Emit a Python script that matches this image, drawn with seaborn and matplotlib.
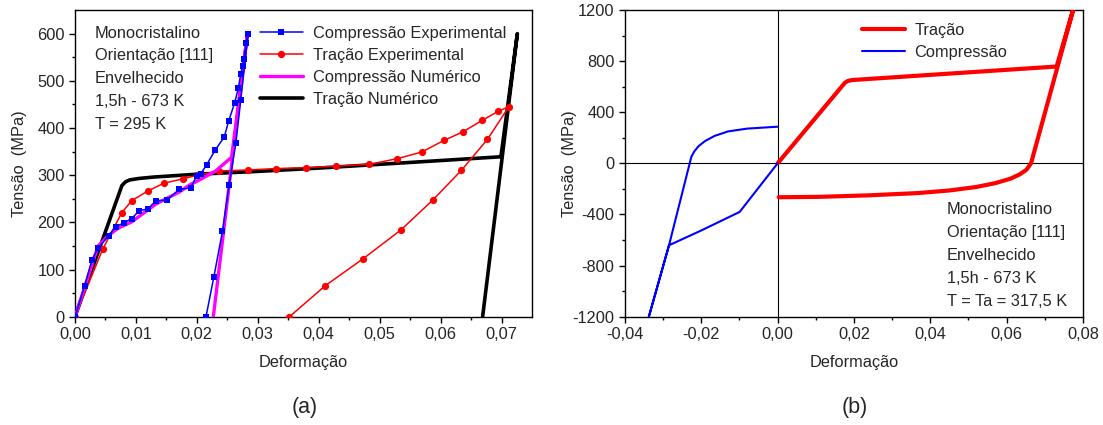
import numpy as np
import pandas as pd
import matplotlib
matplotlib.use("Agg")
import matplotlib.pyplot as plt
import seaborn as sns

# ---- (a) dados experimentais / numericos ----
comp_exp_x = [0, 0.00159, 0.00279, 0.00383, 0.00552, 0.00673, 0.00804, 0.0093, 0.01056, 0.01193,
              0.0133, 0.01505, 0.01712, 0.0190, 0.01997, 0.0206, 0.0216, 0.0230, 0.0245, 0.0252,
              0.0262, 0.0268, 0.0272, 0.0275, 0.0277, 0.0281, 0.0284,
              0.0272, 0.0264, 0.0253, 0.0242, 0.0228, 0.0215]
comp_exp_y = [0, 66, 121, 146, 172, 191, 199, 208, 225, 228,
              246, 247, 270, 273, 299, 302, 322, 353, 381, 414,
              453, 484, 515, 531, 546, 580, 599,
              459, 368, 280, 181, 85, 0]

trac_exp_x = [0, 0.00454, 0.00766, 0.0093, 0.01204, 0.0146, 0.01767, 0.0201, 0.0237, 0.0284,
              0.0330, 0.0379, 0.0428, 0.0483, 0.0529, 0.0569, 0.0606, 0.0637, 0.0668, 0.0694,
              0.0712, 0.0677, 0.0634, 0.0587, 0.0535, 0.0473, 0.0411, 0.0352]
trac_exp_y = [0, 143, 220, 246, 267, 283, 292, 300, 309, 311,
              314, 316, 319, 323, 335, 349, 374, 392, 416, 435,
              445, 376, 310, 247, 184, 123, 66, 0]

comp_num_x = [0, 0.0038, 0.0055, 0.0070, 0.0093, 0.0133, 0.0172, 0.0189, 0.0200, 0.0230, 0.0257, 0.0283, 0.0227]
comp_num_y = [0, 150, 172, 187, 201, 239, 265, 280, 287, 308, 338, 600, 0]

trac_num_x = [0, 0.0077, 0.0083, 0.0090, 0.0105, 0.0129, 0.020, 0.030, 0.040, 0.050, 0.060, 0.0699, 0.0726, 0.0669]
trac_num_y = [0, 278, 286, 290, 293, 296, 302, 308, 315, 323, 331, 339, 600, 0]

# ---- (b) simulacao ciclo ----
trac_b_x = [0, 0.0176, 0.0184, 0.0195, 0.0731, 0.0778, 0.0664, 0.0652, 0.0635, 0.061, 0.057,
            0.052, 0.045, 0.037, 0.024, 0.011, 0.0003]
trac_b_y = [0, 630, 645, 652, 758, 1240, 0, -50, -85, -120, -155,
            -185, -212, -232, -250, -262, -265]

comp_b_x = [0, -0.00995, -0.020, -0.02846, -0.03377, -0.02846, -0.0226, -0.0218, -0.0207, -0.0190,
            -0.0165, -0.0130, -0.0080, 0]
comp_b_y = [0, -380, -525, -641, -1203, -641, 52, 95, 135, 175,
            215, 250, 272, 287]

info_a = ["Monocristalino", "Orientação [111]", "Envelhecido", "1,5h - 673 K", "T = 295 K"]
info_b = ["Monocristalino", "Orientação [111]", "Envelhecido", "1,5h - 673 K", "T = Ta = 317,5 K"]

FS = 11.8

sns.set_style("ticks")
plt.rcParams['font.family'] = ['Liberation Sans', 'DejaVu Sans']
plt.rcParams['font.size'] = FS
plt.rcParams['xtick.direction'] = 'out'
plt.rcParams['ytick.direction'] = 'out'
plt.rcParams['axes.edgecolor'] = 'black'
plt.rcParams['axes.linewidth'] = 1.0

fig = plt.figure(figsize=(11.03, 4.25), dpi=100)
ax1 = fig.add_axes([0.068, 0.2548, 0.4143, 0.7216])
ax2 = fig.add_axes([0.5666, 0.2548, 0.4152, 0.7216])


def comma(v, nd):
    return f"{v:.{nd}f}".replace('.', ',')


def style_axes(ax):
    for s in ax.spines.values():
        s.set_visible(True)
        s.set_color('black')
        s.set_linewidth(1.0)
    ax.tick_params(which='major', length=4.5, width=1, color='black', labelsize=FS, pad=3)
    ax.tick_params(which='minor', length=2.5, width=1, color='black')
    ax.tick_params(top=False, right=False, which='both')


# ----- painel (a) -----
sns.lineplot(x=trac_num_x, y=trac_num_y, sort=False, estimator=None, ax=ax1,
             color='black', linewidth=2.6, label='Tração Numérico', zorder=2)
sns.lineplot(x=trac_exp_x, y=trac_exp_y, sort=False, estimator=None, ax=ax1,
             color='#FF0000', linewidth=1.1, marker='o', markersize=5.2, markeredgewidth=0,
             label='Tração Experimental', zorder=3)
sns.lineplot(x=comp_num_x, y=comp_num_y, sort=False, estimator=None, ax=ax1,
             color='#FF00FF', linewidth=2.4, label='Compressão Numérico', zorder=4)
sns.lineplot(x=comp_exp_x, y=comp_exp_y, sort=False, estimator=None, ax=ax1,
             color='#0000FF', linewidth=1.1, marker='s', markersize=4.8, markeredgewidth=0,
             label='Compressão Experimental', zorder=5)

ax1.set_xlim(0, 0.075)
ax1.set_ylim(0, 650)
xt = np.arange(0, 0.071, 0.01)
ax1.set_xticks(xt)
ax1.set_xticklabels([comma(v, 2) for v in xt])
ax1.set_xticks(np.arange(0.005, 0.075, 0.01), minor=True)
yt = np.arange(0, 601, 100)
ax1.set_yticks(yt)
ax1.set_yticklabels([str(int(v)) for v in yt])
ax1.set_yticks(np.arange(50, 650, 100), minor=True)
style_axes(ax1)
ax1.set_xlabel('Deformação', fontsize=FS)
ax1.set_ylabel('Tensão  (MPa)', fontsize=FS)
ax1.xaxis.set_label_coords(0.5, -0.125)
ax1.yaxis.set_label_coords(-0.105, 0.5)

h, l = ax1.get_legend_handles_labels()
order = [3, 1, 2, 0]
ax1.legend([h[i] for i in order], [l[i] for i in order], loc='upper left',
           bbox_to_anchor=(0.405, 0.948), borderaxespad=0, borderpad=0, frameon=False,
           handlelength=2.6, handletextpad=0.6, labelspacing=0.42, fontsize=FS)

for i, t in enumerate(info_a):
    ax1.text(0.0438, 0.925 - i * 0.0742, t, transform=ax1.transAxes, ha='left', va='center',
             fontsize=FS)

# ----- painel (b) -----
ax2.axhline(0, color='black', linewidth=0.8, zorder=1)
ax2.axvline(0, color='black', linewidth=0.8, zorder=1)
sns.lineplot(x=trac_b_x, y=trac_b_y, sort=False, estimator=None, ax=ax2,
             color='#FF0000', linewidth=3.0, label='Tração', zorder=3)
sns.lineplot(x=comp_b_x, y=comp_b_y, sort=False, estimator=None, ax=ax2,
             color='#0000FF', linewidth=1.5, label='Compressão', zorder=3)

ax2.set_xlim(-0.04, 0.08)
ax2.set_ylim(-1200, 1200)
xt2 = np.arange(-0.04, 0.081, 0.02)
ax2.set_xticks(xt2)
ax2.set_xticklabels([comma(v, 2) if abs(v) > 1e-9 else '0,00' for v in xt2])
ax2.set_xticks(np.arange(-0.03, 0.08, 0.02), minor=True)
yt2 = np.arange(-1200, 1201, 400)
ax2.set_yticks(yt2)
ax2.set_yticklabels([str(int(v)) for v in yt2])
ax2.set_yticks(np.arange(-1000, 1200, 400), minor=True)
style_axes(ax2)
ax2.set_xlabel('Deformação', fontsize=FS)
ax2.set_ylabel('Tensão  (MPa)', fontsize=FS)
ax2.xaxis.set_label_coords(0.5, -0.125)
ax2.yaxis.set_label_coords(-0.105, 0.5)

ax2.legend(loc='upper left', bbox_to_anchor=(0.5175, 0.957), borderaxespad=0, borderpad=0,
           frameon=False, handlelength=2.6, handletextpad=0.6, labelspacing=0.42, fontsize=FS)

for i, t in enumerate(info_b):
    ax2.text(0.703, 0.348 - i * 0.075, t, transform=ax2.transAxes, ha='left', va='center',
             fontsize=FS)

fig.text(305 / 1103, 1 - 408 / 425, '(a)', ha='center', va='center', fontsize=15.5)
fig.text(855 / 1103, 1 - 408 / 425, '(b)', ha='center', va='center', fontsize=15.5)

fig.savefig('out.png', dpi=100)
